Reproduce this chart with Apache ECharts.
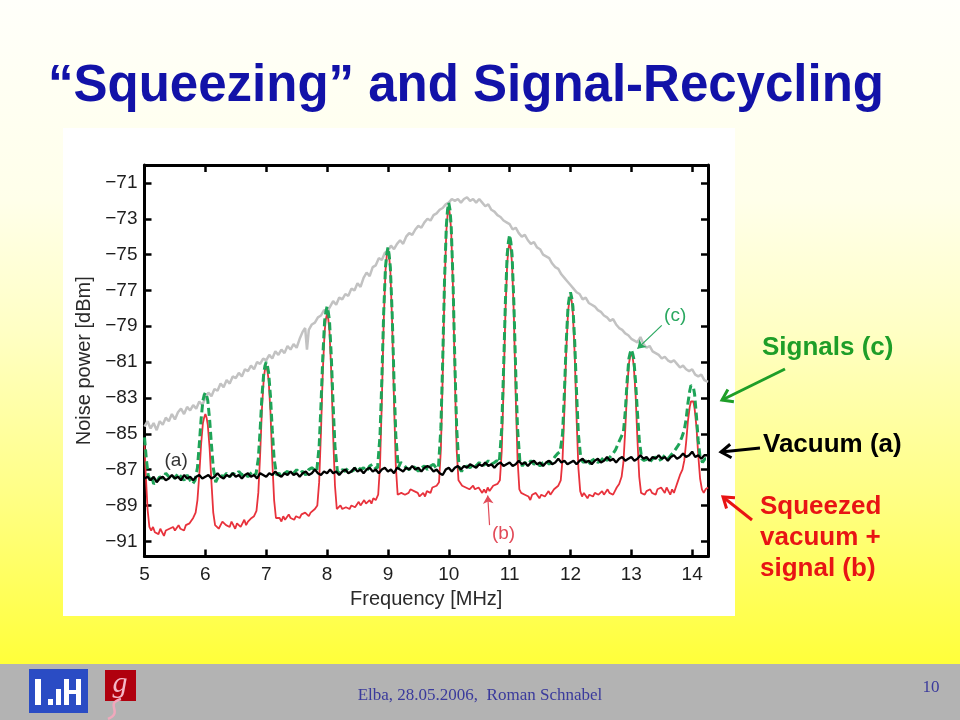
<!DOCTYPE html>
<html><head><meta charset="utf-8">
<script src="https://cdn.jsdelivr.net/npm/echarts@6/dist/echarts.min.js"></script>
<style>html,body{margin:0;padding:0;background:#fff;}#c{width:960px;height:720px;}</style>
</head><body><div id="c"></div>
<script>
// ---------------- data ----------------
const xTicks = [5,6,7,8,9,10,11,12,13,14];
const yTicks = [-91,-89,-87,-85,-83,-81,-79,-77,-75,-73,-71];
const titleText = '\u201CSqueezing\u201D and Signal-Recycling';
const xName = 'Frequency [MHz]';
const yName = 'Noise power [dBm]';

// grey broad curve
const envelopeGray = [
[5.00,-84.6],[5.05,-84.3],[5.10,-84.7],[5.15,-84.4],[5.20,-84.8],[5.25,-84.3],[5.30,-84.5],[5.35,-84.1],[5.40,-84.3],[5.45,-83.9],[5.50,-84.2],[5.55,-83.8],[5.60,-83.6],[5.65,-83.9],[5.70,-83.5],[5.75,-83.7],[5.80,-83.4],[5.85,-83.6],[5.90,-83.2],[5.95,-83.4],[6.00,-83.0],[6.05,-82.7],[6.10,-82.9],[6.15,-82.5],[6.20,-82.6],[6.25,-82.2],[6.30,-82.4],[6.35,-82.0],[6.40,-82.2],[6.45,-81.8],[6.50,-81.9],[6.55,-81.6],[6.60,-81.8],[6.65,-81.4],[6.70,-81.5],[6.75,-81.2],[6.80,-81.4],[6.85,-81.0],[6.90,-81.1],[6.95,-80.8],[7.00,-80.9],[7.05,-80.6],[7.10,-80.8],[7.15,-80.4],[7.20,-80.6],[7.25,-80.3],[7.30,-80.5],[7.35,-80.1],[7.40,-80.3],[7.45,-80.0],[7.50,-80.2],[7.55,-79.7],[7.60,-79.3],[7.64,-79.1],[7.67,-80.3],[7.70,-79.2],[7.75,-78.9],[7.80,-78.8],[7.85,-78.5],[7.90,-78.4],[7.95,-78.1],[8.00,-78.2],[8.05,-77.9],[8.10,-77.6],[8.15,-77.8],[8.20,-77.4],[8.25,-77.5],[8.30,-77.2],[8.35,-77.3],[8.40,-76.9],[8.45,-77.0],[8.50,-76.6],[8.55,-76.8],[8.60,-76.3],[8.65,-76.0],[8.70,-76.2],[8.75,-75.7],[8.80,-75.6],[8.85,-75.2],[8.90,-75.3],[8.95,-74.9],[9.00,-74.8],[9.05,-74.5],[9.10,-74.7],[9.15,-74.4],[9.20,-74.2],[9.25,-74.4],[9.30,-74.0],[9.35,-73.8],[9.40,-73.9],[9.45,-73.6],[9.50,-73.4],[9.55,-73.5],[9.60,-73.2],[9.65,-73.0],[9.70,-73.1],[9.75,-72.8],[9.80,-72.7],[9.85,-72.5],[9.90,-72.4],[9.95,-72.2],[10.00,-72.1],[10.05,-71.9],[10.10,-72.0],[10.15,-71.9],[10.20,-72.1],[10.25,-71.9],[10.30,-71.8],[10.35,-72.0],[10.40,-71.9],[10.45,-72.1],[10.50,-71.9],[10.55,-72.1],[10.60,-72.3],[10.65,-72.2],[10.70,-72.5],[10.75,-72.6],[10.80,-72.8],[10.85,-72.9],[10.90,-73.1],[10.95,-73.2],[11.00,-73.3],[11.05,-73.6],[11.10,-73.5],[11.15,-73.8],[11.20,-74.0],[11.25,-73.9],[11.30,-74.2],[11.35,-74.4],[11.40,-74.3],[11.45,-74.6],[11.50,-74.7],[11.55,-75.0],[11.60,-75.1],[11.65,-75.2],[11.70,-75.5],[11.75,-75.7],[11.80,-75.8],[11.85,-76.1],[11.90,-76.3],[11.95,-76.5],[12.00,-76.7],[12.05,-76.9],[12.10,-77.1],[12.15,-77.2],[12.20,-77.5],[12.25,-77.4],[12.30,-77.7],[12.35,-77.8],[12.40,-77.9],[12.45,-78.1],[12.50,-78.2],[12.55,-78.4],[12.60,-78.5],[12.65,-78.7],[12.70,-78.6],[12.75,-78.9],[12.80,-79.1],[12.85,-79.2],[12.90,-79.4],[12.95,-79.5],[13.00,-79.7],[13.05,-79.8],[13.10,-79.9],[13.15,-79.6],[13.20,-80.0],[13.25,-80.2],[13.30,-80.1],[13.35,-80.4],[13.40,-80.5],[13.45,-80.6],[13.50,-80.8],[13.55,-80.7],[13.60,-80.9],[13.65,-81.0],[13.70,-80.9],[13.75,-81.1],[13.80,-81.3],[13.85,-81.2],[13.90,-81.4],[13.95,-81.5],[14.00,-81.4],[14.05,-81.7],[14.10,-81.8],[14.15,-81.7],[14.20,-82.0],[14.26,-82.1]
];

// (a) vacuum
const vacuumA = [
[5.00,-87.5],[5.05,-87.4],[5.10,-87.6],[5.15,-87.4],[5.20,-87.7],[5.25,-87.5],[5.30,-87.4],[5.35,-87.6],[5.40,-87.5],[5.45,-87.3],[5.50,-87.5],[5.55,-87.4],[5.60,-87.6],[5.65,-87.3],[5.70,-87.5],[5.75,-87.4],[5.80,-87.6],[5.85,-87.4],[5.90,-87.3],[5.95,-87.5],[6.00,-87.4],[6.05,-87.3],[6.10,-87.5],[6.15,-87.4],[6.20,-87.2],[6.25,-87.4],[6.30,-87.5],[6.35,-87.3],[6.40,-87.4],[6.45,-87.2],[6.50,-87.4],[6.55,-87.3],[6.60,-87.5],[6.65,-87.3],[6.70,-87.2],[6.75,-87.4],[6.80,-87.3],[6.85,-87.5],[6.90,-87.2],[6.95,-87.3],[7.00,-87.4],[7.05,-87.2],[7.10,-87.3],[7.15,-87.1],[7.20,-87.3],[7.25,-87.4],[7.30,-87.2],[7.35,-87.3],[7.40,-87.1],[7.45,-87.3],[7.50,-87.2],[7.55,-87.4],[7.60,-87.2],[7.65,-87.1],[7.70,-87.3],[7.75,-87.2],[7.80,-87.0],[7.85,-87.2],[7.90,-87.3],[7.95,-87.1],[8.00,-87.2],[8.05,-87.0],[8.10,-87.2],[8.15,-87.1],[8.20,-87.3],[8.25,-87.1],[8.30,-87.0],[8.35,-87.2],[8.40,-87.1],[8.45,-86.9],[8.50,-87.1],[8.55,-87.0],[8.60,-87.2],[8.65,-87.0],[8.70,-86.9],[8.75,-87.1],[8.80,-87.0],[8.85,-87.2],[8.90,-87.0],[8.95,-86.9],[9.00,-87.1],[9.05,-87.0],[9.10,-87.2],[9.15,-86.9],[9.20,-87.0],[9.25,-87.1],[9.30,-86.9],[9.35,-87.0],[9.40,-86.8],[9.45,-87.0],[9.50,-86.9],[9.55,-87.1],[9.60,-86.9],[9.65,-86.8],[9.70,-86.9],[9.75,-87.1],[9.80,-87.0],[9.85,-87.2],[9.90,-87.3],[9.95,-87.0],[10.00,-86.9],[10.05,-87.1],[10.10,-86.9],[10.15,-86.8],[10.20,-87.0],[10.25,-86.8],[10.30,-86.9],[10.35,-86.7],[10.40,-86.8],[10.45,-86.9],[10.50,-86.7],[10.55,-86.8],[10.60,-86.6],[10.65,-86.8],[10.70,-86.7],[10.75,-86.9],[10.80,-86.7],[10.85,-86.6],[10.90,-86.8],[10.95,-86.7],[11.00,-86.6],[11.05,-86.8],[11.10,-86.7],[11.15,-86.5],[11.20,-86.7],[11.25,-86.6],[11.30,-86.8],[11.35,-86.6],[11.40,-86.5],[11.45,-86.7],[11.50,-86.6],[11.55,-86.8],[11.60,-86.6],[11.65,-86.5],[11.70,-86.7],[11.75,-86.6],[11.80,-86.4],[11.85,-86.6],[11.90,-86.5],[11.95,-86.7],[12.00,-86.6],[12.05,-86.5],[12.10,-86.7],[12.15,-86.5],[12.20,-86.4],[12.25,-86.6],[12.30,-86.5],[12.35,-86.7],[12.40,-86.5],[12.45,-86.4],[12.50,-86.6],[12.55,-86.5],[12.60,-86.3],[12.65,-86.5],[12.70,-86.4],[12.75,-86.6],[12.80,-86.4],[12.85,-86.3],[12.90,-86.5],[12.95,-86.4],[13.00,-86.3],[13.05,-86.5],[13.10,-86.4],[13.15,-86.2],[13.20,-86.4],[13.25,-86.3],[13.30,-86.5],[13.35,-86.3],[13.40,-86.4],[13.45,-86.2],[13.50,-86.4],[13.55,-86.3],[13.60,-86.5],[13.65,-86.3],[13.70,-86.2],[13.75,-86.4],[13.80,-86.3],[13.85,-86.1],[13.90,-86.3],[13.95,-86.2],[14.00,-86.0],[14.05,-86.3],[14.10,-86.2],[14.15,-86.4],[14.20,-86.2],[14.26,-86.2]
];

// (b) squeezed vacuum + signal
const squeezedB = [
[5.00,-85.6],[5.02,-87.2],[5.05,-89.2],[5.08,-90.2],[5.11,-90.4],[5.14,-90.2],[5.17,-90.5],[5.20,-90.4],[5.23,-90.6],[5.26,-90.3],[5.29,-90.5],[5.32,-90.7],[5.35,-90.4],[5.38,-90.5],[5.41,-90.3],[5.44,-90.4],[5.47,-90.2],[5.50,-90.4],[5.53,-90.3],[5.56,-90.1],[5.59,-90.3],[5.62,-90.2],[5.65,-90.4],[5.68,-90.1],[5.71,-90.2],[5.74,-90.0],[5.77,-89.9],[5.80,-89.7],[5.84,-89.4],[5.87,-88.7],[5.90,-87.3],[5.93,-85.6],[5.96,-84.4],[5.98,-84.1],[6.00,-83.9],[6.02,-84.1],[6.04,-84.5],[6.07,-85.8],[6.10,-87.7],[6.13,-89.4],[6.16,-90.1],
[6.19,-90.2],[6.22,-90.3],[6.25,-90.1],[6.28,-89.9],[6.31,-89.8],[6.34,-90.1],[6.37,-90.0],[6.40,-90.2],[6.43,-89.9],[6.46,-90.1],[6.49,-90.3],[6.52,-90.0],[6.55,-89.9],[6.58,-90.2],[6.61,-90.0],[6.64,-89.8],[6.67,-90.1],[6.70,-89.9],[6.73,-89.8],[6.76,-89.7],[6.80,-89.6],[6.84,-89.3],[6.87,-88.3],[6.90,-86.2],[6.93,-83.6],[6.96,-81.9],[6.98,-81.4],[7.00,-81.2],[7.02,-81.5],[7.04,-82.0],[7.07,-83.8],[7.10,-86.5],[7.13,-88.7],[7.16,-89.7],
[7.19,-89.8],[7.22,-89.7],[7.25,-89.9],[7.28,-89.6],[7.31,-89.8],[7.34,-89.7],[7.37,-89.5],[7.40,-89.7],[7.43,-89.6],[7.46,-89.8],[7.49,-89.6],[7.52,-89.5],[7.55,-89.7],[7.58,-89.5],[7.61,-89.6],[7.64,-89.4],[7.67,-89.5],[7.70,-89.6],[7.73,-89.4],[7.76,-89.3],[7.80,-89.2],[7.84,-89.0],[7.87,-87.7],[7.90,-84.9],[7.93,-81.5],[7.96,-79.3],[7.98,-78.6],[8.00,-78.3],[8.02,-78.6],[8.04,-79.3],[8.07,-81.6],[8.10,-85.1],[8.13,-87.9],[8.16,-89.2],
[8.19,-89.1],[8.22,-89.0],[8.25,-89.2],[8.28,-89.3],[8.31,-89.1],[8.34,-89.0],[8.37,-89.2],[8.40,-89.0],[8.43,-88.9],[8.46,-89.1],[8.49,-89.0],[8.52,-88.8],[8.55,-89.0],[8.58,-88.9],[8.61,-88.7],[8.64,-88.9],[8.67,-88.8],[8.70,-88.7],[8.73,-88.9],[8.76,-88.6],[8.80,-88.7],[8.84,-88.4],[8.87,-86.8],[8.90,-83.2],[8.93,-78.8],[8.96,-75.9],[8.98,-75.1],[9.00,-74.7],[9.02,-75.1],[9.04,-75.9],[9.07,-78.8],[9.10,-83.2],[9.13,-86.8],[9.16,-88.4],
[9.19,-88.5],[9.22,-88.3],[9.25,-88.2],[9.28,-88.4],[9.31,-88.5],[9.34,-88.3],[9.37,-88.1],[9.40,-88.0],[9.43,-88.2],[9.46,-88.1],[9.49,-88.3],[9.52,-88.5],[9.55,-88.4],[9.58,-88.3],[9.61,-88.5],[9.64,-88.2],[9.67,-88.1],[9.70,-88.3],[9.73,-88.0],[9.76,-88.1],[9.80,-87.9],[9.84,-87.7],[9.87,-85.9],[9.90,-81.8],[9.93,-76.9],[9.96,-73.7],[9.98,-72.8],[10.00,-72.3],[10.02,-72.8],[10.04,-73.7],[10.07,-76.9],[10.10,-81.8],[10.13,-85.9],[10.16,-87.6],
[10.19,-87.7],[10.22,-87.9],[10.25,-87.8],[10.28,-88.0],[10.31,-87.9],[10.34,-88.1],[10.37,-88.0],[10.40,-87.9],[10.43,-88.1],[10.46,-88.2],[10.49,-88.0],[10.52,-88.1],[10.55,-88.3],[10.58,-88.1],[10.61,-88.3],[10.64,-88.0],[10.67,-88.2],[10.70,-88.1],[10.73,-87.9],[10.76,-88.0],[10.80,-87.8],[10.84,-87.6],[10.87,-86.0],[10.90,-82.5],[10.93,-78.3],[10.96,-75.5],[10.98,-74.7],[11.00,-74.3],[11.02,-74.7],[11.04,-75.5],[11.07,-78.4],[11.10,-82.9],[11.13,-86.4],[11.16,-88.1],
[11.19,-88.3],[11.22,-88.2],[11.25,-88.4],[11.28,-88.3],[11.31,-88.5],[11.34,-88.7],[11.37,-88.4],[11.40,-88.5],[11.43,-88.3],[11.46,-88.4],[11.49,-88.6],[11.52,-88.4],[11.55,-88.3],[11.58,-88.5],[11.61,-88.4],[11.64,-88.2],[11.67,-88.4],[11.70,-88.3],[11.73,-88.1],[11.76,-88.0],[11.80,-87.9],[11.84,-87.6],[11.87,-86.4],[11.90,-83.7],[11.93,-80.4],[11.96,-78.2],[11.98,-77.6],[12.00,-77.3],[12.02,-77.6],[12.04,-78.3],[12.07,-80.6],[12.10,-84.1],[12.13,-86.9],[12.16,-88.2],
[12.19,-88.5],[12.22,-88.3],[12.25,-88.4],[12.28,-88.6],[12.31,-88.4],[12.34,-88.3],[12.37,-88.5],[12.40,-88.3],[12.43,-88.2],[12.46,-88.4],[12.49,-88.3],[12.52,-88.2],[12.55,-88.4],[12.58,-88.3],[12.61,-88.1],[12.64,-88.3],[12.67,-88.2],[12.70,-88.4],[12.73,-88.2],[12.76,-88.0],[12.80,-87.8],[12.84,-87.4],[12.87,-86.6],[12.90,-84.8],[12.93,-82.6],[12.96,-81.1],[12.98,-80.7],[13.00,-80.5],[13.02,-80.7],[13.04,-81.2],[13.07,-82.8],[13.10,-85.3],[13.13,-87.4],[13.16,-88.3],
[13.19,-88.3],[13.22,-88.4],[13.25,-88.2],[13.28,-88.3],[13.31,-88.1],[13.34,-88.3],[13.37,-88.2],[13.40,-88.4],[13.43,-88.1],[13.46,-88.2],[13.49,-88.0],[13.52,-88.1],[13.55,-88.3],[13.58,-88.0],[13.61,-88.2],[13.64,-88.4],[13.67,-88.1],[13.70,-88.3],[13.73,-88.0],[13.76,-87.7],[13.80,-87.3],[13.84,-87.0],[13.87,-86.5],[13.90,-85.5],[13.93,-84.3],[13.96,-83.5],[13.98,-83.2],[14.00,-83.1],[14.02,-83.2],[14.04,-83.6],[14.07,-84.6],[14.10,-86.2],[14.13,-87.5],[14.16,-88.1],
[14.19,-88.3],[14.22,-88.1],[14.24,-88.0],[14.26,-88.0]
];

// (c) signals (dashed)
const signalsC = [
[5.00,-85.2],[5.03,-86.4],[5.06,-87.3],[5.09,-87.6],[5.12,-87.4],[5.15,-87.8],[5.18,-87.9],[5.21,-87.6],[5.25,-87.4],[5.30,-87.5],[5.35,-87.2],[5.40,-87.4],[5.45,-87.3],[5.50,-87.5],[5.55,-87.2],[5.60,-87.4],[5.65,-87.6],[5.70,-87.3],[5.75,-87.6],[5.79,-87.8],[5.83,-87.6],[5.87,-86.9],[5.90,-85.6],[5.93,-84.2],[5.96,-83.15],[5.98,-82.85],[6.00,-82.7],[6.02,-82.85],[6.04,-83.15],[6.07,-84.2],[6.10,-85.6],[6.13,-86.9],[6.17,-87.7],
[6.21,-87.4],[6.25,-87.3],[6.30,-87.4],[6.35,-87.2],[6.40,-87.4],[6.45,-87.2],[6.50,-87.3],[6.55,-87.1],[6.60,-87.3],[6.65,-87.2],[6.70,-87.4],[6.75,-87.2],[6.79,-87.1],[6.83,-87.3],[6.87,-86.4],[6.90,-84.8],[6.93,-82.9],[6.96,-81.6],[6.98,-81.2],[7.00,-81.0],[7.02,-81.2],[7.04,-81.6],[7.07,-82.9],[7.10,-84.8],[7.13,-86.4],[7.17,-87.3],
[7.21,-87.2],[7.25,-87.4],[7.30,-87.2],[7.35,-87.1],[7.40,-87.3],[7.45,-87.2],[7.50,-87.0],[7.55,-87.2],[7.60,-87.1],[7.65,-87.3],[7.70,-87.0],[7.75,-86.9],[7.79,-87.0],[7.83,-87.1],[7.87,-85.7],[7.90,-83.4],[7.93,-80.7],[7.96,-78.7],[7.98,-78.2],[8.00,-77.9],[8.02,-78.2],[8.04,-78.7],[8.07,-80.7],[8.10,-83.4],[8.13,-85.7],[8.17,-87.1],
[8.21,-87.2],[8.25,-87.0],[8.30,-87.1],[8.35,-86.9],[8.40,-87.1],[8.45,-87.0],[8.50,-86.8],[8.55,-87.0],[8.60,-86.9],[8.65,-87.1],[8.70,-86.8],[8.75,-86.7],[8.79,-86.9],[8.83,-86.9],[8.87,-85.1],[8.90,-82.0],[8.93,-78.3],[8.96,-75.7],[8.98,-75.0],[9.00,-74.6],[9.02,-75.0],[9.04,-75.7],[9.07,-78.3],[9.10,-82.0],[9.13,-85.1],[9.17,-86.9],
[9.21,-86.6],[9.25,-86.7],[9.30,-86.9],[9.35,-87.0],[9.40,-86.8],[9.45,-86.9],[9.50,-87.1],[9.55,-86.9],[9.60,-86.8],[9.65,-87.0],[9.70,-86.8],[9.75,-86.7],[9.79,-86.9],[9.83,-86.9],[9.87,-84.7],[9.90,-81.0],[9.93,-76.5],[9.96,-73.4],[9.98,-72.5],[10.00,-72.1],[10.02,-72.5],[10.04,-73.4],[10.07,-76.5],[10.10,-81.0],[10.13,-84.7],[10.17,-86.9],
[10.21,-87.1],[10.25,-86.9],[10.30,-86.8],[10.35,-86.9],[10.40,-86.7],[10.45,-86.8],[10.50,-86.6],[10.55,-86.8],[10.60,-86.7],[10.65,-86.5],[10.70,-86.7],[10.75,-86.6],[10.79,-86.5],[10.83,-86.6],[10.87,-84.7],[10.90,-81.5],[10.93,-77.7],[10.96,-75.0],[10.98,-74.3],[11.00,-73.9],[11.02,-74.3],[11.04,-75.0],[11.07,-77.7],[11.10,-81.5],[11.13,-84.7],[11.17,-86.6],
[11.21,-86.8],[11.25,-86.6],[11.30,-86.7],[11.35,-86.5],[11.40,-86.7],[11.45,-86.6],[11.50,-86.8],[11.55,-86.6],[11.60,-86.5],[11.65,-86.7],[11.70,-86.5],[11.74,-86.3],[11.79,-86.1],[11.83,-86.0],[11.87,-85.0],[11.90,-82.7],[11.93,-79.9],[11.96,-77.9],[11.98,-77.4],[12.00,-77.1],[12.02,-77.4],[12.04,-77.9],[12.07,-79.9],[12.10,-82.7],[12.13,-85.0],[12.17,-86.4],
[12.21,-86.6],[12.25,-86.5],[12.30,-86.7],[12.35,-86.5],[12.40,-86.4],[12.45,-86.6],[12.50,-86.5],[12.55,-86.3],[12.60,-86.5],[12.65,-86.3],[12.70,-86.1],[12.74,-85.9],[12.79,-85.5],[12.83,-85.2],[12.87,-84.9],[12.90,-83.8],[12.93,-82.1],[12.96,-80.8],[12.98,-80.5],[13.00,-80.3],[13.02,-80.5],[13.04,-80.8],[13.07,-82.1],[13.10,-83.8],[13.13,-85.3],[13.17,-86.4],
[13.21,-86.5],[13.25,-86.4],[13.30,-86.6],[13.35,-86.4],[13.40,-86.3],[13.45,-86.5],[13.50,-86.4],[13.55,-86.2],[13.60,-86.4],[13.65,-86.2],[13.70,-86.0],[13.74,-85.8],[13.78,-85.6],[13.83,-85.2],[13.87,-84.8],[13.90,-84.2],[13.93,-83.3],[13.96,-82.6],[13.98,-82.3],[14.00,-82.2],[14.02,-82.4],[14.04,-82.8],[14.07,-84.0],[14.10,-85.4],[14.13,-86.3],[14.17,-86.6],
[14.21,-86.4],[14.26,-86.4]
];

// in-plot annotation anchors (data coordinates)
const labelA = [5.52, -86.5];
const labelB = [10.9, -90.6];
const labelC = [13.72, -78.4];
const arrowB = [[10.67, -90.1], [10.64, -88.45]];
const arrowC = [[13.5, -78.95], [13.1, -80.25]];

// ---------------- chart ----------------
const chart = echarts.init(document.getElementById('c'), null, {width:960, height:720});
const SANS = '"Liberation Sans", Arial, Helvetica, sans-serif';
const minus = v => String(v).replace('-', '\u2212');

function arrow(x1, y1, x2, y2, color, w, head) {
  const ang = Math.atan2(y1 - y2, x1 - x2);
  const a1 = ang + 0.6, a2 = ang - 0.6;
  return [
    {type:'line', z:20, shape:{x1:x1, y1:y1, x2:x2, y2:y2}, style:{stroke:color, lineWidth:w}},
    {type:'polyline', z:20, shape:{points:[[x2 + head*Math.cos(a1), y2 + head*Math.sin(a1)], [x2, y2], [x2 + head*Math.cos(a2), y2 + head*Math.sin(a2)]]}, style:{stroke:color, lineWidth:w, fill:null}}
  ];
}

const frameAxis = {
  axisLine:{show:true, onZero:false, lineStyle:{color:'#000', width:3}},
  axisTick:{show:true, inside:true, length:7, lineStyle:{color:'#000', width:2.5}},
  splitLine:{show:false}
};

function markLabel(coord, text, color) {
  return {coord: coord, symbol:'rect', symbolSize:[1,1], itemStyle:{color:'rgba(0,0,0,0)'},
    label:{show:true, position:'inside', formatter:text, color:color, fontSize:19, fontFamily:SANS}};
}
function markArrow(pair, color) {
  return {
    silent:true, symbol:['none','arrow'], symbolSize:8, animation:false,
    label:{show:false}, lineStyle:{color:color, width:1.2, type:'solid'},
    data:[[{coord:pair[0]}, {coord:pair[1]}]]
  };
}

const graphics = [
  {type:'rect', z:-100, silent:true, shape:{x:0, y:0, width:960, height:664},
   style:{fill:new echarts.graphic.LinearGradient(0,0,0,1,[
     {offset:0, color:'#fffffa'},{offset:0.3, color:'#ffffea'},{offset:0.5, color:'#ffffc4'},
     {offset:0.75, color:'#ffff84'},{offset:1, color:'#ffff3a'}])}},
  {type:'rect', z:-100, silent:true, shape:{x:0, y:664, width:960, height:56}, style:{fill:'#b3b3b3'}},
  {type:'rect', z:-99, silent:true, shape:{x:63, y:128, width:672, height:488}, style:{fill:'#ffffff'}},
  {type:'text', z:20, style:{text:titleText, x:466, y:87, textAlign:'center', textVerticalAlign:'middle',
    font:'bold 51px ' + SANS, fill:'#1212a8'}},
  {type:'text', z:20, style:{text:'Signals (c)', x:762, y:348, textAlign:'left', textVerticalAlign:'middle', font:'bold 26px ' + SANS, fill:'#1e9e28'}},
  {type:'text', z:20, style:{text:'Vacuum (a)', x:763, y:445, textAlign:'left', textVerticalAlign:'middle', font:'bold 26px ' + SANS, fill:'#000'}},
  {type:'text', z:20, style:{text:'Squeezed', x:760, y:507, textAlign:'left', textVerticalAlign:'middle', font:'bold 26px ' + SANS, fill:'#e81414'}},
  {type:'text', z:20, style:{text:'vacuum +', x:760, y:538, textAlign:'left', textVerticalAlign:'middle', font:'bold 26px ' + SANS, fill:'#e81414'}},
  {type:'text', z:20, style:{text:'signal (b)', x:760, y:569, textAlign:'left', textVerticalAlign:'middle', font:'bold 26px ' + SANS, fill:'#e81414'}},
  ...arrow(785, 369, 722, 400, '#1e9e28', 3, 12),
  ...arrow(760, 448, 721, 452, '#000', 3, 12),
  ...arrow(752, 520, 723, 497, '#e81414', 3, 12),
  // footer
  {type:'text', z:20, style:{text:'Elba, 28.05.2006,  Roman Schnabel', x:480, y:696, textAlign:'center', textVerticalAlign:'middle', font:'17px "Liberation Serif", "Times New Roman", serif', fill:'#3a3a9c'}},
  {type:'text', z:20, style:{text:'10', x:931, y:688, textAlign:'center', textVerticalAlign:'middle', font:'17px "Liberation Serif", "Times New Roman", serif', fill:'#3a3a9c'}},
  // logos
  {type:'rect', z:20, shape:{x:29, y:669, width:59, height:44}, style:{fill:'#2a4cc4'}},
  {type:'rect', z:21, shape:{x:35, y:679, width:6, height:26}, style:{fill:'#fff'}},
  {type:'rect', z:21, shape:{x:48, y:699, width:5, height:6}, style:{fill:'#fff'}},
  {type:'rect', z:21, shape:{x:56, y:689, width:5, height:16}, style:{fill:'#fff'}},
  {type:'rect', z:21, shape:{x:64, y:679, width:5, height:26}, style:{fill:'#fff'}},
  {type:'rect', z:21, shape:{x:69, y:690, width:7, height:4}, style:{fill:'#fff'}},
  {type:'rect', z:21, shape:{x:76, y:679, width:5, height:26}, style:{fill:'#fff'}},
  {type:'rect', z:20, shape:{x:105, y:670, width:31, height:31}, style:{fill:'#b0000e'}},
  {type:'text', z:21, style:{text:'g', x:120, y:684, textAlign:'center', textVerticalAlign:'middle', font:'italic 30px "Liberation Serif", serif', fill:'#f4b8c8'}},
  {type:'bezierCurve', z:21, shape:{x1:121, y1:699, x2:108, y2:719, cpx1:104, cpy1:704, cpx2:124, cpy2:712}, style:{stroke:'#f0a8bc', lineWidth:2.5, fill:null}}
];

const option = {
  backgroundColor:'#ffffff',
  animation:false,
  grid:{left:144.5, right:252, top:165, bottom:163.5, show:false},
  xAxis:[
    Object.assign({type:'value', min:5, max:14.26, interval:1, position:'bottom',
      axisLabel:{show:true, margin:9, color:'#1e1e1e', fontSize:19, fontFamily:SANS, showMaxLabel:false},
      name:xName, nameLocation:'middle', nameGap:29,
      nameTextStyle:{color:'#2a2a2a', fontSize:20, fontFamily:SANS}}, frameAxis),
    Object.assign({type:'value', min:5, max:14.26, interval:1, position:'top', axisLabel:{show:false}}, frameAxis)
  ],
  yAxis:[
    Object.assign({type:'value', min:-91.85, max:-70, position:'left',
      axisLabel:{show:true, customValues:yTicks, margin:7, color:'#1e1e1e', fontSize:19, fontFamily:SANS, formatter:minus},
      name:yName, nameLocation:'middle', nameGap:44, nameRotate:90,
      nameTextStyle:{color:'#2a2a2a', fontSize:20, fontFamily:SANS}}, frameAxis,
      {axisTick:{show:true, inside:true, length:7, customValues:yTicks, lineStyle:{color:'#000', width:2.5}}}),
    Object.assign({type:'value', min:-91.85, max:-70, position:'right', axisLabel:{show:false}}, frameAxis,
      {axisTick:{show:true, inside:true, length:7, customValues:yTicks, lineStyle:{color:'#000', width:2.5}}})
  ],
  series:[
    {name:'envelope', type:'line', data:envelopeGray, symbol:'none', z:2, clip:true,
     lineStyle:{color:'#c2c2c2', width:2.5}},
    {name:'(b)', type:'line', data:squeezedB, symbol:'none', z:3, clip:true,
     lineStyle:{color:'#e8323c', width:1.8},
     markLine:markArrow(arrowB, '#e24a58'),
     markPoint:{silent:true, animation:false, data:[markLabel(labelB, '(b)', '#e24a58')]}},
    {name:'(c)', type:'line', data:signalsC, symbol:'none', z:4, clip:true,
     lineStyle:{color:'#1ea458', width:3, type:[8,4]},
     markLine:markArrow(arrowC, '#2aa860'),
     markPoint:{silent:true, animation:false, data:[markLabel(labelC, '(c)', '#2aa860')]}},
    {name:'(a)', type:'line', data:vacuumA, symbol:'none', z:5, clip:true,
     lineStyle:{color:'#000000', width:2.3},
     markPoint:{silent:true, animation:false, data:[markLabel(labelA, '(a)', '#333333')]}}
  ],
  graphic:graphics
};
chart.setOption(option);
</script>
</body></html>
